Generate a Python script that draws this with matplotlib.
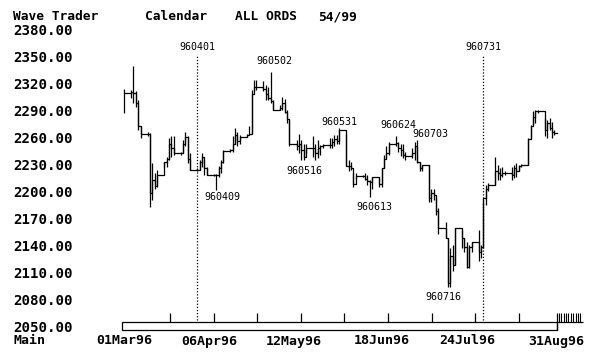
import numpy as np
import pandas as pd
import matplotlib
matplotlib.use("Agg")
import matplotlib.pyplot as plt
from matplotlib.patches import Rectangle
from matplotlib.transforms import blended_transform_factory

# trading days, Mar-Aug 1996
trade_days = pd.bdate_range("1996-03-01", "1996-08-30")

highs = [
    # Mar
    2316, 2314, 2341, 2313, 2303, 2274, 2268, 2267, 2233, 2222, 2226, 2235, 2240, 2261, 2263, 2263, 2246, 2259, 2268, 2263, 2244,
    # Apr
    2228, 2237, 2244, 2237, 2229, 2221, 2221, 2230, 2237, 2248, 2249, 2263, 2272, 2268, 2265, 2266, 2274, 2315, 2326, 2326, 2324, 2320,
    # May
    2318, 2335, 2303, 2298, 2307, 2305, 2292, 2281, 2259, 2266, 2259, 2255, 2255, 2263, 2255, 2259, 2253, 2255, 2261, 2261, 2265, 2265, 2272,
    # Jun
    2266, 2237, 2235, 2222, 2222, 2220, 2222, 2220, 2215, 2218, 2217, 2228, 2242, 2252, 2257, 2263, 2257, 2255, 2254, 2246,
    # Jul
    2250, 2257, 2259, 2235, 2231, 2231, 2204, 2204, 2194, 2183, 2168, 2150, 2139, 2142, 2161, 2159, 2150, 2146, 2142, 2146, 2159, 2142, 2190,
    # Aug
    2209, 2211, 2240, 2231, 2228, 2229, 2224, 2229, 2231, 2233, 2231, 2232, 2261, 2276, 2291, 2292, 2292, 2283, 2281, 2283, 2279, 2270,
]
lows = [
    2289, 2306, 2300, 2296, 2270, 2261, 2263, 2185, 2192, 2204, 2207, 2229, 2229, 2237, 2240, 2242, 2242, 2244, 2252, 2233, 2226,
    2224, 2226, 2229, 2220, 2220, 2219, 2203, 2218, 2222, 2233, 2246, 2246, 2255, 2252, 2254, 2262, 2265, 2267, 2313, 2315, 2313, 2303,
    2303, 2300, 2292, 2292, 2292, 2289, 2278, 2252, 2248, 2244, 2237, 2237, 2244, 2240, 2237, 2239, 2242, 2250, 2250, 2250, 2252, 2254, 2255,
    2230, 2224, 2226, 2207, 2216, 2218, 2215, 2209, 2196, 2205, 2207, 2207, 2228, 2239, 2242, 2252, 2246, 2241, 2239, 2237,
    2239, 2237, 2233, 2224, 2224, 2190, 2190, 2192, 2176, 2155, 2150, 2096, 2096, 2113, 2120, 2139, 2135, 2117, 2117, 2135, 2124, 2128, 2139,
    2187, 2202, 2209, 2215, 2215, 2218, 2220, 2215, 2217, 2218, 2224, 2229, 2231, 2261, 2276, 2278, 2289, 2263, 2261, 2270, 2261, 2265,
]
closes = [
    2311, 2312, 2311, 2300, 2274, 2266, 2266, 2200, 2215, 2208, 2220, 2234, 2238, 2255, 2250, 2244, 2244, 2255, 2262, 2238, 2226,
    2226, 2235, 2240, 2228, 2220, 2220, 2220, 2228, 2235, 2247, 2248, 2255, 2265, 2258, 2262, 2264, 2266, 2310, 2318, 2318, 2316, 2310,
    2306, 2302, 2292, 2295, 2300, 2290, 2282, 2255, 2252, 2255, 2248, 2240, 2250, 2250, 2245, 2250, 2252, 2253, 2253, 2257, 2260, 2258, 2270,
    2230, 2230, 2228, 2210, 2219, 2219, 2216, 2213, 2212, 2218, 2210, 2228, 2238, 2245, 2255, 2256, 2250, 2248, 2242, 2241,
    2245, 2252, 2235, 2228, 2231, 2195, 2200, 2198, 2180, 2161, 2150, 2100, 2130, 2120, 2161, 2150, 2140, 2118, 2140, 2146, 2135, 2140, 2195,
    2205, 2209, 2225, 2222, 2220, 2222, 2222, 2220, 2228, 2225, 2230, 2231, 2260, 2275, 2285, 2291, 2291, 2270, 2278, 2272, 2268, 2267,
]

y_ticks = [2380, 2350, 2320, 2290, 2260, 2230, 2200, 2170, 2140, 2110, 2080, 2050]
x_tick_dates = ["1996-03-01", "1996-04-06", "1996-05-12", "1996-06-18", "1996-07-24", "1996-08-31"]
x_tick_labels = ["01Mar96", "06Apr96", "12May96", "18Jun96", "24Jul96", "31Aug96"]
cycle_dates = ["1996-04-01", "1996-07-31"]
cycle_labels = ["960401", "960731"]

# turning point labels: text, day offset, value
pivot_labels = ["960502", "960409", "960516", "960531", "960613", "960624", "960703", "960716"]
pivot_x = [63.5, 41.5, 76.1, 91.0, 105.8, 115.9, 129.4, 135.0]
pivot_y = [2346.7, 2195.6, 2224.4, 2278.9, 2184.4, 2275.6, 2265.6, 2084.4]

start = pd.Timestamp("1996-03-01")
xd = np.array([(d - start).days for d in trade_days], dtype=float)
end_day = (pd.Timestamp("1996-08-31") - start).days

px_day = 2.364
px_pt = 0.9
x0_px = 124
y0_px = 31

fig = plt.figure(figsize=(5.94, 3.57), dpi=100)
ax = fig.add_axes([0, 0, 1, 1])
ax.set_xlim(-x0_px / px_day, (594 - x0_px) / px_day)
ax.set_ylim(2380 - (357 - y0_px) / px_pt, 2380 + y0_px / px_pt)
ax.axis("off")

mono = "DejaVu Sans Mono"

# price bars + step connectors
ax.vlines(xd, lows, highs, color="black", lw=0.9)
sx = np.append(xd, end_day)
sy = np.append(closes, closes[-1])
ax.step(sx, sy, where="post", color="black", lw=0.9)

# cycle marker lines
for d, lab in zip(cycle_dates, cycle_labels):
    dx = (pd.Timestamp(d) - start).days
    ax.vlines(dx, 2059, 2353, color="black", lw=0.9, linestyles=(0, (1, 1.5)))
    ax.text(dx, 2362, lab, family=mono, fontsize=7.2, ha="center", va="center")

for lab, px, py in zip(pivot_labels, pivot_x, pivot_y):
    ax.text(px, py, lab, family=mono, fontsize=7.2, ha="center", va="center")

# y labels
ty = blended_transform_factory(ax.transAxes, ax.transData)
for v in y_ticks:
    ax.text(13 / 594, v, f"{v:.2f}", transform=ty, family=mono, fontweight="bold",
            fontsize=10.2, ha="left", va="center")

# bottom time bar
ax.add_patch(Rectangle((-0.85, 2047.8), end_day + 0.85, 8.9, fill=False, lw=0.9, ec="black"))
ax.vlines(np.linspace(19.5, 167, 9), 2056.7, 2066.7, color="black", lw=0.9)
ax.vlines(end_day, 2047.8, 2066.7, color="black", lw=0.9)
ax.vlines(np.arange(end_day + 1, end_day + 11), 2056.7, 2066.7, color="black", lw=0.8)
ax.hlines(2056.7, end_day, end_day + 11, color="black", lw=0.9)

tx = blended_transform_factory(ax.transData, ax.transAxes)
label_y = (357 - 341) / 357
for d, lab in zip(x_tick_dates, x_tick_labels):
    dx = (pd.Timestamp(d) - start).days
    ax.text(dx, label_y, lab, transform=tx, family=mono, fontweight="bold",
            fontsize=9.5, ha="center", va="center")
fig.text(13 / 594, label_y, "Main", family=mono, fontweight="bold", fontsize=9.5, ha="left", va="center")

# header
head_y = (357 - 17) / 357
for txt, hx in [("Wave Trader", 13), ("Calendar", 145), ("ALL ORDS", 235), ("54/99", 318)]:
    fig.text(hx / 594, head_y, txt, family=mono, fontweight="bold", fontsize=9.3, ha="left", va="center")

fig.savefig("out.png", dpi=100)
